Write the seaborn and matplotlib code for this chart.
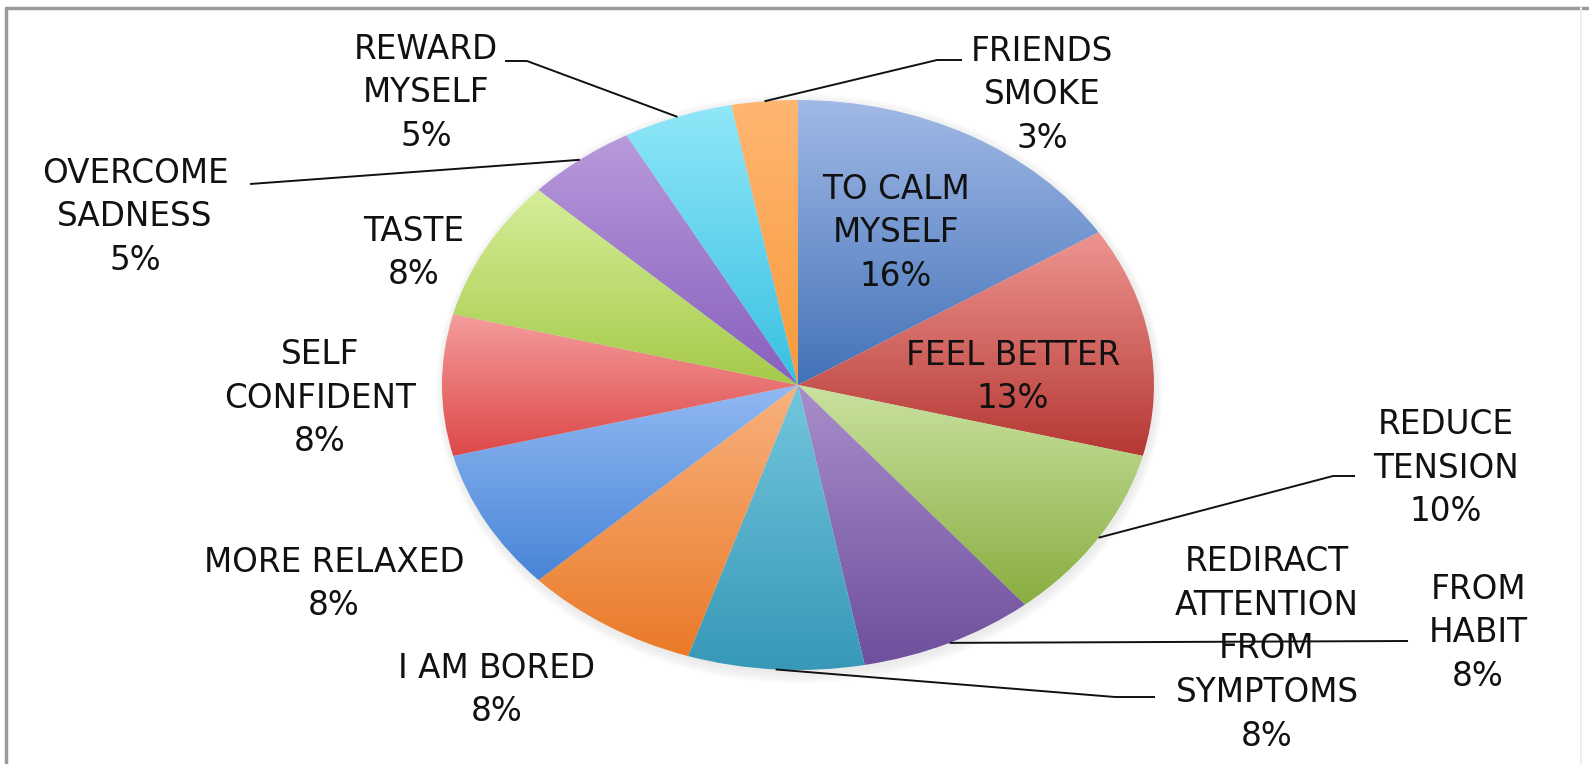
import numpy as np
import matplotlib
matplotlib.use("Agg")
import matplotlib.pyplot as plt
import seaborn as sns
from matplotlib.patches import Ellipse
from matplotlib.lines import Line2D

# ---- data -------------------------------------------------------------
categories = [
    "TO CALM\nMYSELF", "FEEL BETTER", "REDUCE\nTENSION", "FROM\nHABIT",
    "REDIRACT\nATTENTION\nFROM\nSYMPTOMS", "I AM BORED", "MORE RELAXED",
    "SELF\nCONFIDENT", "TASTE", "OVERCOME\nSADNESS", "REWARD\nMYSELF",
    "FRIENDS\nSMOKE",
]
shares = [16, 13, 10, 8, 8, 8, 8, 8, 8, 5, 5, 3]

# top (light) and bottom (dark) colour of each slice's gradient fill
light_colors = ["#a1b9e6", "#ee9591", "#c9e2a0", "#a98ecb", "#74c6dd", "#f8b27e",
                "#92b9f3", "#f49d9c", "#d6ee9a", "#b89adb", "#90e7f8", "#ffb672"]
dark_colors = ["#4372b8", "#b53833", "#89ad40", "#6d4f9c", "#3798b7", "#ea7a28",
               "#4885d6", "#dd4848", "#a4ca49", "#875fbe", "#38c0e2", "#f79a3b"]

# ---- layout (figure pixels, origin top-left) ---------------------------
W, H = 1589, 764
pie_cx, pie_cy, pie_rx, pie_ry = 798, 385, 356, 285
label_xy = [(896, 233), (1013, 377), (1446, 468), (1478, 633), (1267, 649),
            (497, 690), (334, 584), (320, 398), (414, 253), (135, 217),
            (426, 93), (1042, 95)]
# leader lines: slice index -> extra vertices after the edge anchor
leaders = {
    11: [(937, 60), (962, 60)],
    10: [(527, 61), (505, 61)],
    9: [(250, 184)],
    2: [(1333, 476), (1355, 476)],
    3: [(1408, 641)],
    4: [(1115, 697), (1155, 697)],
}

sns.set_theme(style="white")
plt.rcParams["font.family"] = ["DejaVu Sans"]

fig = plt.figure(figsize=(W / 100, H / 100), dpi=100)
fig.patch.set_facecolor("white")

# overlay axes in pixel coordinates for labels, leaders and frame
over = fig.add_axes([0, 0, 1, 1], zorder=3)
over.set_xlim(0, W)
over.set_ylim(H, 0)
over.axis("off")
over.patch.set_alpha(0)

# elliptical pie axes
pie_ax = fig.add_axes([(pie_cx - pie_rx) / W, (H - pie_cy - pie_ry) / H,
                       2 * pie_rx / W, 2 * pie_ry / H], zorder=2)

# soft shadow beneath the pie
for k in range(8):
    pie_ax.add_patch(Ellipse((0.004, -0.012), 2 * (1.0 + 0.003 * k), 2 * (1.0 + 0.005 * k),
                             facecolor="#a0a0a0", edgecolor="none", alpha=0.025,
                             clip_on=False, zorder=0))

wedges, _ = pie_ax.pie(shares, startangle=90, counterclock=False, radius=1,
                       colors=dark_colors,
                       wedgeprops=dict(linewidth=0, edgecolor="none"))
grad = np.linspace(0, 1, 256).reshape(-1, 1)
for w, lc, dc in zip(wedges, light_colors, dark_colors):
    w.set_facecolor("none")
    w.set_clip_on(False)
    ext = w.get_path().get_extents()
    cmap = sns.blend_palette([dc, lc], as_cmap=True)
    im = pie_ax.imshow(grad, cmap=cmap, origin="lower", aspect="auto",
                       extent=(ext.x0, ext.x1, ext.y0, ext.y1),
                       interpolation="bicubic", zorder=1)
    im.set_clip_path(w)
pie_ax.set_aspect("auto")
pie_ax.set_xlim(-1, 1)
pie_ax.set_ylim(-1, 1)
pie_ax.axis("off")

# labels
for name, val, (x, y) in zip(categories, shares, label_xy):
    over.text(x, y, f"{name}\n{val}%", ha="center", va="center",
              fontsize=23.5, color="#111111", linespacing=1.41)

# leader lines from the middle of each slice's rim
fig.canvas.draw()
to_over = pie_ax.transData + over.transData.inverted()
total = sum(shares)
start = 90.0
mids = []
for s in shares:
    span = 360.0 * s / total
    mids.append(start - span / 2)
    start -= span
for idx, pts in leaders.items():
    a = np.deg2rad(mids[idx])
    ax0, ay0 = to_over.transform((np.cos(a), np.sin(a)))
    xs = [ax0] + [p[0] for p in pts]
    ys = [ay0] + [p[1] for p in pts]
    over.plot(xs, ys, color="#111111", lw=1.4, solid_capstyle="butt")

# chart frame
over.add_line(Line2D([6, W], [8, 8], color="#9a9a9a", lw=2.5))
over.add_line(Line2D([6, 6], [8, H], color="#9a9a9a", lw=2.5))
over.add_line(Line2D([W - 8, W - 8], [8, H], color="#efefef", lw=1.5))

fig.savefig("out.png", dpi=100, facecolor="white")
